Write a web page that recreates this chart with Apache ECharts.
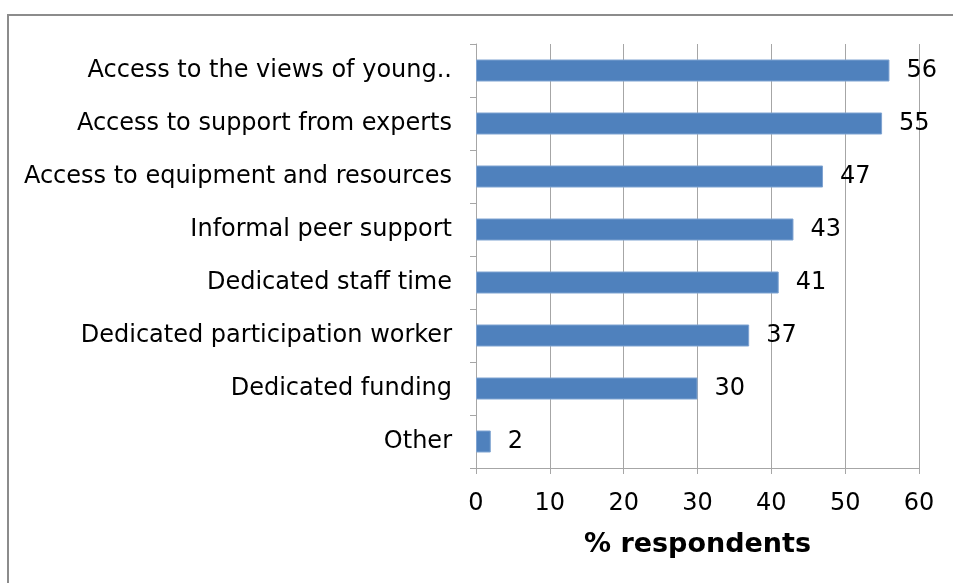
<!DOCTYPE html>
<html>
<head>
<meta charset="utf-8">
<script src="https://cdn.jsdelivr.net/npm/echarts@6/dist/echarts.min.js"></script>
<style>
  html, body { margin: 0; padding: 0; background: #fff; }
  #chart { width: 953px; height: 583px; }
</style>
</head>
<body>
<div id="chart"></div>
<script>
// Support options, listed top to bottom
const categories = [
  'Access to the views of young..',
  'Access to support from experts',
  'Access to equipment and resources',
  'Informal peer support',
  'Dedicated staff time',
  'Dedicated participation worker',
  'Dedicated funding',
  'Other'
];
const percentages = [56, 55, 47, 43, 41, 37, 30, 2];
const axisMin = 0;
const axisMax = 60;
const axisStep = 10;
const axisTitle = '% respondents';

const font = '"DejaVu Sans", Verdana, sans-serif';
const chart = echarts.init(document.getElementById('chart'), null, { renderer: 'canvas' });

chart.setOption({
  animation: false,
  backgroundColor: '#ffffff',
  graphic: [{
    type: 'rect',
    shape: { x: 8, y: 15, width: 980, height: 620 },
    style: { fill: 'none', stroke: '#8c8c8c', lineWidth: 2 },
    silent: true
  }],
  grid: { left: 476, right: 34, top: 44, bottom: 115, containLabel: false },
  xAxis: {
    type: 'value',
    min: axisMin,
    max: axisMax,
    interval: axisStep,
    name: axisTitle,
    nameLocation: 'middle',
    nameGap: 63,
    nameTextStyle: { fontFamily: font, fontSize: 27, fontWeight: 'bold', color: '#000' },
    axisLine: { show: true, lineStyle: { color: '#a6a6a6', width: 1 } },
    axisTick: { show: true, length: 6, lineStyle: { color: '#a6a6a6' } },
    axisLabel: { fontFamily: font, fontSize: 24, color: '#000', margin: 24 },
    splitLine: { show: true, lineStyle: { color: '#a6a6a6', width: 1 } }
  },
  yAxis: {
    type: 'category',
    inverse: true,
    data: categories,
    axisLine: { show: true, lineStyle: { color: '#a6a6a6', width: 1 } },
    axisTick: { show: true, length: 6, alignWithLabel: false, lineStyle: { color: '#a6a6a6' } },
    axisLabel: { fontFamily: font, fontSize: 24, color: '#000', margin: 24 },
    splitLine: { show: false }
  },
  series: [{
    type: 'bar',
    data: percentages,
    barWidth: 22,
    itemStyle: { color: '#4f81bd', borderColor: '#7fa3d1', borderWidth: 1 },
    label: {
      show: true,
      position: 'right',
      distance: 17,
      fontFamily: font,
      fontSize: 24,
      color: '#000'
    }
  }]
});
</script>
</body>
</html>
